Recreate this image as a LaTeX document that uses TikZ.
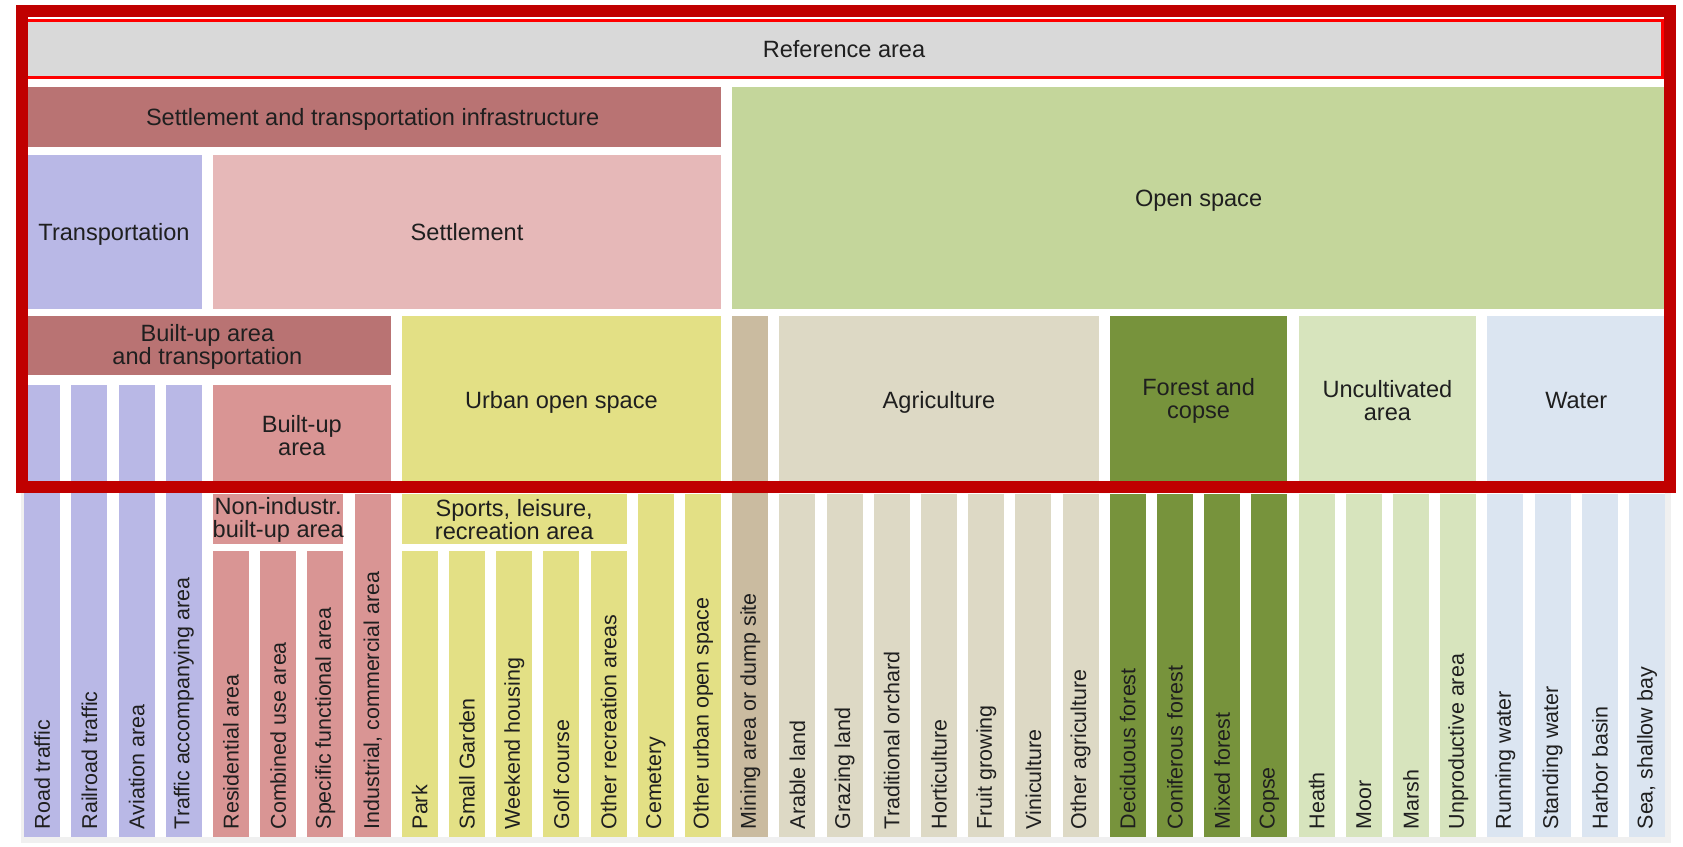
\documentclass[tikz,border=0pt]{standalone}
\usepackage{fontspec}
\setmainfont{Liberation Sans}
\usepackage{tikz}

\definecolor{refgray}{HTML}{D9D9D9}
\definecolor{infrared}{HTML}{B97373}
\definecolor{transblue}{HTML}{B9B8E6}
\definecolor{settlepink}{HTML}{E6B8B8}
\definecolor{builtred}{HTML}{D99594}
\definecolor{urbanyellow}{HTML}{E3E085}
\definecolor{opengreen}{HTML}{C4D69B}
\definecolor{miningtan}{HTML}{CABBA0}
\definecolor{agritan}{HTML}{DDD9C5}
\definecolor{forestgreen}{HTML}{77933C}
\definecolor{uncultgreen}{HTML}{D7E4BD}
\definecolor{waterblue}{HTML}{DBE5F1}
\definecolor{framered}{HTML}{C00000}
\definecolor{framegray}{HTML}{F0F0F0}

\begin{document}
\begin{tikzpicture}[x=0.01cm, y=-0.01cm,
		lbl/.style={font=\fontsize{6.7pt}{6.6pt}\selectfont, text=black!88, align=center, inner sep=0pt, text depth=0pt},
		lbltwo/.style={font=\fontsize{6.7pt}{6.5pt}\selectfont, text=black!88, align=center, inner sep=0pt},
		vlbl/.style={font=\fontsize{6.1pt}{7pt}\selectfont, text=black!88, rotate=90, anchor=west, inner sep=0pt}]
		\useasboundingbox (0,0) rectangle (1683,846);

		% thin grey frame around the lower bars
		\fill[framegray] (21,11) rectangle (1670.7,843);
		\fill[white] (24.2,11) rectangle (1665,837);

		% top level
		\fill[refgray] (24.2,21) rectangle (1662.7,77);
		\draw[red, line width=0.035cm] (24.2,20.5) rectangle (1662.7,77.5);
		\node[lbl] (refarea) at (844,48.5) {Reference area};

		% second and third level
		\fill[infrared] (24.2,87) rectangle (721,147);
		\node[lbl] (infra) at (372.6,117) {Settlement and transportation infrastructure};
		\fill[opengreen] (732.2,87) rectangle (1665,309);
		\node[lbl] (openspace) at (1198.6,198) {Open space};

		\fill[transblue] (24.2,155) rectangle (201.8,309);
		\node[lbl] (transport) at (114,232) {Transportation};
		\fill[settlepink] (213,155) rectangle (721,309);
		\node[lbl] (settlement) at (467,232) {Settlement};

		\fill[infrared] (24.2,316) rectangle (390.6,375);
		\node[lbltwo] (builttrans) at (207.4,346.5) {Built-up area\\and transportation};
		\fill[urbanyellow] (401.8,316) rectangle (721,484);
		\node[lbl] (urbanopen) at (561.4,400) {Urban open space};
		\fill[agritan] (779.4,316) rectangle (1098.6,484);
		\node[lbl] (agri) at (939,400) {Agriculture};
		\fill[forestgreen] (1109.8,316) rectangle (1287.4,484);
		\node[lbltwo] (forest) at (1198.6,401) {Forest and\\copse};
		\fill[uncultgreen] (1298.6,316) rectangle (1476.2,484);
		\node[lbltwo] (uncult) at (1387.4,401) {Uncultivated\\area};
		\fill[waterblue] (1487.4,316) rectangle (1665,484);
		\node[lbl] (water) at (1576.2,400) {Water};

		\fill[builtred] (213,385) rectangle (390.6,484);
		\node[lbltwo] (builtup) at (301.8,436) {Built-up\\area};
		\fill[builtred] (213,494) rectangle (343.4,544);
		\node[lbltwo] (nonindustr) at (278.2,520) {Non-industr.\\built-up area};
		\fill[urbanyellow] (401.8,494) rectangle (626.6,544);
		\node[lbltwo] (sports) at (514.2,520) {Sports, leisure,\\recreation area};

		% transportation bars
		\fill[transblue] (24.2,385) rectangle (60.2,837);
		\node[vlbl] (road) at (42.2,830) {Road traffic};
		\fill[transblue] (71.4,385) rectangle (107.4,837);
		\node[vlbl] (railroad) at (89.4,830) {Railroad traffic};
		\fill[transblue] (118.6,385) rectangle (154.6,837);
		\node[vlbl] (aviation) at (136.6,830) {Aviation area};
		\fill[transblue] (165.8,385) rectangle (201.8,837);
		\node[vlbl] (trafficacc) at (183.8,830) {Traffic accompanying area};

		% built-up bars
		\fill[builtred] (213,551) rectangle (249,837);
		\node[vlbl] (residential) at (231,830) {Residential area};
		\fill[builtred] (260.2,551) rectangle (296.2,837);
		\node[vlbl] (combined) at (278.2,830) {Combined use area};
		\fill[builtred] (307.4,551) rectangle (343.4,837);
		\node[vlbl] (specific) at (325.4,830) {Specific functional area};
		\fill[builtred] (354.6,494) rectangle (390.6,837);
		\node[vlbl] (industrial) at (372.6,830) {Industrial, commercial area};

		% urban open space bars
		\fill[urbanyellow] (401.8,551) rectangle (437.8,837);
		\node[vlbl] (park) at (419.8,830) {Park};
		\fill[urbanyellow] (449,551) rectangle (485,837);
		\node[vlbl] (smallgarden) at (467,830) {Small Garden};
		\fill[urbanyellow] (496.2,551) rectangle (532.2,837);
		\node[vlbl] (weekend) at (514.2,830) {Weekend housing};
		\fill[urbanyellow] (543.4,551) rectangle (579.4,837);
		\node[vlbl] (golf) at (561.4,830) {Golf course};
		\fill[urbanyellow] (590.6,551) rectangle (626.6,837);
		\node[vlbl] (otherrec) at (608.6,830) {Other recreation areas};
		\fill[urbanyellow] (637.8,494) rectangle (673.8,837);
		\node[vlbl] (cemetery) at (655.8,830) {Cemetery};
		\fill[urbanyellow] (685,494) rectangle (721,837);
		\node[vlbl] (otherurban) at (703,830) {Other urban open space};

		% mining and agriculture bars
		\fill[miningtan] (732.2,316) rectangle (768.2,837);
		\node[vlbl] (mining) at (750.2,830) {Mining area or dump site};
		\fill[agritan] (779.4,494) rectangle (815.4,837);
		\node[vlbl] (arable) at (797.4,830) {Arable land};
		\fill[agritan] (826.6,494) rectangle (862.6,837);
		\node[vlbl] (grazing) at (844.6,830) {Grazing land};
		\fill[agritan] (873.8,494) rectangle (909.8,837);
		\node[vlbl] (orchard) at (891.8,830) {Traditional orchard};
		\fill[agritan] (921,494) rectangle (957,837);
		\node[vlbl] (horti) at (939,830) {Horticulture};
		\fill[agritan] (968.2,494) rectangle (1004.2,837);
		\node[vlbl] (fruit) at (986.2,830) {Fruit growing};
		\fill[agritan] (1015.4,494) rectangle (1051.4,837);
		\node[vlbl] (vini) at (1033.4,830) {Viniculture};
		\fill[agritan] (1062.6,494) rectangle (1098.6,837);
		\node[vlbl] (otheragri) at (1080.6,830) {Other agriculture};

		% forest bars
		\fill[forestgreen] (1109.8,494) rectangle (1145.8,837);
		\node[vlbl] (deciduous) at (1127.8,830) {Deciduous forest};
		\fill[forestgreen] (1157,494) rectangle (1193,837);
		\node[vlbl] (coniferous) at (1175,830) {Coniferous forest};
		\fill[forestgreen] (1204.2,494) rectangle (1240.2,837);
		\node[vlbl] (mixed) at (1222.2,830) {Mixed forest};
		\fill[forestgreen] (1251.4,494) rectangle (1287.4,837);
		\node[vlbl] (copse) at (1269.4,830) {Copse};

		% uncultivated bars
		\fill[uncultgreen] (1298.6,494) rectangle (1334.6,837);
		\node[vlbl] (heath) at (1316.6,830) {Heath};
		\fill[uncultgreen] (1345.8,494) rectangle (1381.8,837);
		\node[vlbl] (moor) at (1363.8,830) {Moor};
		\fill[uncultgreen] (1393,494) rectangle (1429,837);
		\node[vlbl] (marsh) at (1411,830) {Marsh};
		\fill[uncultgreen] (1440.2,494) rectangle (1476.2,837);
		\node[vlbl] (unprod) at (1458.2,830) {Unproductive area};

		% water bars
		\fill[waterblue] (1487.4,494) rectangle (1523.4,837);
		\node[vlbl] (running) at (1505.4,830) {Running water};
		\fill[waterblue] (1534.6,494) rectangle (1570.6,837);
		\node[vlbl] (standing) at (1552.6,830) {Standing water};
		\fill[waterblue] (1581.8,494) rectangle (1617.8,837);
		\node[vlbl] (harbor) at (1599.8,830) {Harbor basin};
		\fill[waterblue] (1629,494) rectangle (1665,837);
		\node[vlbl] (sea) at (1647,830) {Sea, shallow bay};

		% thick frame round the upper levels
		\draw[framered, line width=0.12cm] (22,11.2) rectangle (1670,487);
	\end{tikzpicture}
\end{document}
